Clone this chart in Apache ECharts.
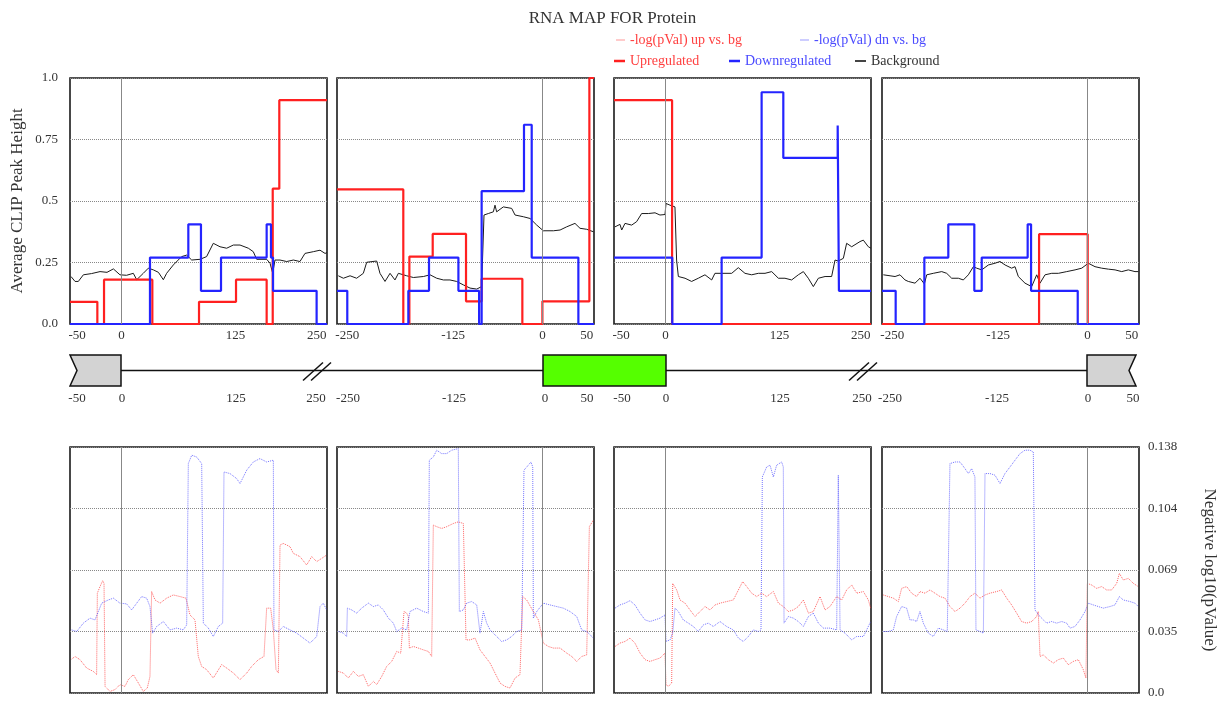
<!DOCTYPE html>
<html>
<head>
<meta charset="utf-8">
<title>RNA MAP FOR Protein</title>
<script src="https://cdn.jsdelivr.net/npm/echarts@6/dist/echarts.min.js"></script>
<style>
  html, body { margin: 0; padding: 0; background: #fff; }
  #chart { width: 1225px; height: 702px; }
</style>
</head>
<body>
<div id="chart"></div>
<script>
// ---------- data ----------
// x ranges of the four regions around the cassette exon
const regionRanges = [[-50, 200], [-200, 50], [-50, 200], [-200, 50]]
const regionTickPos = [[-43, 0, 111, 190], [-190, -87, 0, 43], [-43, 0, 111, 190], [-190, -87, 0, 43]]
const regionTickText = [['-50', '0', '125', '250'], ['-250', '-125', '0', '50'], ['-50', '0', '125', '250'], ['-250', '-125', '0', '50']]

const peakYLabels = ['0.0', '0.25', '0.5', '0.75', '1.0']
const pvalYLabels = ['0.0', '0.035', '0.069', '0.104', '0.138']

// Upregulated (red step)
const up1 = [[-50, 0.09], [-23.4, 0], [-16.9, 0.18], [30.1, 0], [75.5, 0.09], [111.5, 0.18], [141.3, 0], [147.2, 0.55], [153.6, 0.91], [200, 0.91]]
const up2 = [[-200, 0.547], [-135.5, 0], [-129.6, 0.274], [-106.9, 0.366], [-74.5, 0.092], [-59.3, 0.184], [-19.7, 0], [-0.2, 0.092], [45.5, 1.0], [50, 1.0]]
const up3 = [[-50, 0.91], [6.5, 0], [200, 0]]
const up4 = [[-200, 0], [-47.2, 0.365], [0.1, 0], [50, 0]]

// Downregulated (blue step)
const dn1 = [[-50, 0], [27.8, 0.27], [65.1, 0.405], [77.4, 0.135], [96.9, 0.27], [141.3, 0.405], [145.5, 0.27], [147.5, 0.135], [189.9, 0], [200, 0]]
const dn2 = [[-200, 0.135], [-190, 0], [-130.6, 0.135], [-110.5, 0.27], [-81.9, 0.135], [-61.8, 0], [-59.3, 0.54], [-18.1, 0.81], [-10.6, 0.27], [34.8, 0], [50, 0]]
const dn3 = [[-50, 0.27], [6.7, 0], [54.7, 0.27], [93.6, 0.942], [114.7, 0.675], [167.6, 0.807], [168.8, 0.135], [200, 0.135]]
const dn4 = [[-200, 0.135], [-186.7, 0], [-158.8, 0.27], [-135.5, 0.405], [-110.2, 0.135], [-103, 0.27], [-58.3, 0.405], [-55, 0.135], [-9.6, 0], [50, 0]]

// Background (black)
const bg1 = [[-49, 0.193], [-45.1, 0.173], [-41.9, 0.173], [-37, 0.2], [-29, 0.205], [-20.8, 0.213], [-14, 0.21], [-7.8, 0.224], [-1.4, 0.2], [5, 0.198], [11.6, 0.206], [14.9, 0.18], [21.3, 0.206], [26.2, 0.227], [31.1, 0.22], [36, 0.21], [40.8, 0.18], [44, 0.206], [50.5, 0.24], [58.6, 0.274], [63.5, 0.28], [68.4, 0.26], [76.5, 0.263], [82.9, 0.274], [89.4, 0.328], [95.9, 0.314], [102.4, 0.308], [108.9, 0.321], [115.4, 0.321], [123.5, 0.308], [128.3, 0.294], [131.6, 0.263], [141.3, 0.263], [144.6, 0.247], [147.2, 0.206], [149.4, 0.26], [154.3, 0.26], [160.8, 0.254], [167.3, 0.26], [173.7, 0.254], [178.6, 0.287], [186.7, 0.294], [193.2, 0.3], [198.1, 0.287], [200, 0.29]]
const bg2 = [[-198.7, 0.196], [-193.8, 0.186], [-187.3, 0.196], [-180.9, 0.186], [-174.4, 0.206], [-171.1, 0.251], [-161.4, 0.256], [-158.2, 0.206], [-153.3, 0.173], [-148.4, 0.206], [-143.6, 0.179], [-140.3, 0.206], [-132.2, 0.196], [-125.7, 0.189], [-116, 0.193], [-109.5, 0.2], [-103, 0.186], [-96.5, 0.179], [-90.1, 0.179], [-83.6, 0.173], [-77.1, 0.159], [-70.6, 0.146], [-64.1, 0.142], [-59.3, 0.152], [-57, 0.443], [-52.8, 0.449], [-47.9, 0.456], [-46.3, 0.483], [-44.7, 0.456], [-38.2, 0.476], [-30.1, 0.47], [-26.8, 0.443], [-18.7, 0.436], [-12.2, 0.429], [-5.7, 0.402], [0.7, 0.379], [10.5, 0.379], [17, 0.382], [23.4, 0.395], [31.5, 0.409], [36.4, 0.389], [42.9, 0.385], [49.4, 0.375]]
const bg3 = [[-49, 0.395], [-44.2, 0.405], [-42.5, 0.382], [-39.3, 0.409], [-32.8, 0.402], [-28, 0.416], [-23.1, 0.449], [-16.6, 0.449], [-10.1, 0.452], [-5.3, 0.443], [-0.4, 0.445], [0.6, 0.49], [4.5, 0.483], [9.3, 0.476], [10.9, 0.26], [12.6, 0.193], [19.1, 0.186], [25.5, 0.173], [32, 0.186], [38.5, 0.2], [45, 0.179], [48.2, 0.206], [54.7, 0.206], [64.5, 0.206], [70.9, 0.229], [77.4, 0.206], [83.9, 0.2], [90.4, 0.206], [96.9, 0.206], [103.4, 0.213], [109.9, 0.186], [116.3, 0.186], [122.8, 0.179], [129.3, 0.2], [134.2, 0.213], [139, 0.186], [143.9, 0.152], [148.8, 0.186], [155.3, 0.193], [161.7, 0.193], [165, 0.26], [168.2, 0.256], [173.1, 0.267], [176.3, 0.328], [181.2, 0.314], [189.3, 0.335], [192.5, 0.341], [197.4, 0.314], [200, 0.308]]
const bg4 = [[-198.7, 0.2], [-192.2, 0.196], [-187.3, 0.193], [-182.5, 0.2], [-177.6, 0.179], [-174.4, 0.173], [-167.9, 0.166], [-163, 0.186], [-158.8, 0.163], [-156.5, 0.2], [-150.1, 0.206], [-141.9, 0.213], [-137.1, 0.206], [-132.2, 0.186], [-125.7, 0.186], [-120.9, 0.179], [-116, 0.2], [-111.1, 0.233], [-107.9, 0.227], [-103, 0.22], [-96.5, 0.24], [-90.1, 0.247], [-85.2, 0.254], [-80.3, 0.24], [-73.9, 0.227], [-70.6, 0.233], [-67.4, 0.193], [-60.9, 0.166], [-54.4, 0.152], [-49.5, 0.2], [-46.3, 0.166], [-41.4, 0.2], [-34.9, 0.206], [-28.4, 0.206], [-20.3, 0.213], [-12.2, 0.22], [-5.7, 0.227], [0.7, 0.247], [7.2, 0.233], [13.7, 0.227], [20.2, 0.223], [26.7, 0.22], [33.2, 0.213], [39.6, 0.22], [46.1, 0.213], [49.4, 0.213]]

// -log(pVal) up vs. bg (red dotted)
const pUp1 = [[-48.4, 0.019], [-45.1, 0.0205], [-40.3, 0.0187], [-33.8, 0.014], [-27.3, 0.0121], [-24.1, 0.0103], [-23.4, 0.056], [-20.8, 0.0597], [-18.2, 0.063], [-16.9, 0.0615], [-15.9, 0.0037], [-11.1, 0.0009], [-6.2, 0.0019], [-1.4, 0.0047], [3.5, 0.0037], [6.7, 0.0075], [11.6, 0.0103], [16.5, 0.0056], [21.3, 0.0009], [25.2, 0.0028], [27.8, 0.0093], [29.4, 0.0569], [32.7, 0.0522], [37.6, 0.0504], [44, 0.0532], [50.5, 0.055], [57, 0.0541], [62.8, 0.0532], [66.7, 0.0438], [71.6, 0.041], [74.8, 0.0205], [78.1, 0.0149], [82.9, 0.0131], [89.4, 0.0084], [97.5, 0.0159], [102.4, 0.014], [108.9, 0.0112], [115.4, 0.0075], [121.9, 0.0112], [126.7, 0.0149], [133.2, 0.0187], [138.7, 0.0205], [141.3, 0.0476], [145.2, 0.0476], [147.8, 0.0354], [150.4, 0.0131], [152.7, 0.0112], [154.3, 0.083], [157.5, 0.0839], [164, 0.0821], [167.3, 0.0783], [173.7, 0.0765], [180.2, 0.0718], [185.1, 0.0765], [190, 0.0737], [194.8, 0.0755], [199.7, 0.0774]]
const pUp2 = [[-198.7, 0.0121], [-193.8, 0.0112], [-189, 0.0084], [-184.1, 0.0121], [-179.2, 0.0093], [-174.4, 0.0103], [-169.5, 0.0037], [-164.6, 0.0065], [-161.4, 0.0047], [-156.5, 0.0093], [-151.7, 0.0149], [-146.8, 0.0177], [-141.9, 0.0233], [-138, 0.0224], [-134.8, 0.0457], [-132.2, 0.0448], [-130.6, 0.0429], [-129.6, 0.0252], [-125.7, 0.0261], [-120.9, 0.0252], [-116, 0.0242], [-111.1, 0.0233], [-107.9, 0.0205], [-106.3, 0.0942], [-103, 0.0933], [-98.2, 0.0923], [-93.3, 0.0933], [-86.8, 0.0951], [-82, 0.096], [-77.1, 0.0951], [-75.5, 0.0942], [-74.5, 0.0298], [-70.6, 0.0298], [-65.7, 0.0308], [-60.9, 0.0242], [-56, 0.0205], [-51.1, 0.0168], [-46.3, 0.0112], [-41.4, 0.0056], [-36.6, 0.0037], [-31.7, 0.0028], [-26.8, 0.0084], [-22, 0.0103], [-19.4, 0.0541], [-15.5, 0.0522], [-9, 0.0457], [-4.1, 0.041], [0.7, 0.028], [5.6, 0.0261], [10.5, 0.0252], [17, 0.0252], [23.4, 0.0224], [28.3, 0.0205], [33.2, 0.0177], [38, 0.0205], [42.9, 0.0214], [45.5, 0.0933], [49.4, 0.097]]
const pUp3 = [[-49, 0.0261], [-44.2, 0.028], [-39.3, 0.0289], [-34.4, 0.0308], [-29.6, 0.028], [-24.7, 0.0224], [-19.8, 0.0187], [-15, 0.0177], [-10.1, 0.0187], [-5.2, 0.0196], [-0.4, 0.0224], [0.6, 0.0047], [2.9, 0.0037], [6.1, 0.0056], [7.1, 0.0615], [11, 0.0578], [14.2, 0.0522], [19.1, 0.0504], [23.9, 0.0466], [28.8, 0.0429], [33.7, 0.0457], [38.5, 0.0485], [43.4, 0.0466], [48.3, 0.0494], [53.1, 0.0504], [59.6, 0.0513], [66.1, 0.0522], [71, 0.0578], [75.2, 0.0625], [79.1, 0.0597], [83.9, 0.056], [88.8, 0.0541], [93.6, 0.056], [98.5, 0.0541], [105, 0.0569], [109.9, 0.0504], [114.7, 0.0485], [119.6, 0.0457], [124.5, 0.0466], [129.3, 0.0485], [134.2, 0.0522], [139.1, 0.0448], [143.9, 0.0457], [150.4, 0.0541], [155.3, 0.0466], [160.1, 0.0485], [166.6, 0.0541], [171.5, 0.0522], [176.3, 0.0578], [181.2, 0.0606], [186.1, 0.056], [192.6, 0.0569], [197.4, 0.0522], [199.7, 0.0476]]
const pUp4 = [[-198.7, 0.055], [-193.9, 0.0541], [-189, 0.0532], [-184.1, 0.0513], [-180.9, 0.0587], [-176, 0.0597], [-171.2, 0.056], [-166.3, 0.0541], [-163.1, 0.0569], [-158.2, 0.056], [-153.3, 0.0578], [-148.5, 0.056], [-143.6, 0.0541], [-138.7, 0.0532], [-133.9, 0.0485], [-129, 0.0457], [-124.1, 0.0476], [-119.3, 0.0504], [-114.4, 0.0541], [-109.6, 0.056], [-104.7, 0.0532], [-99.8, 0.055], [-95, 0.056], [-88.5, 0.0569], [-83.6, 0.0578], [-78.7, 0.0532], [-73.9, 0.0494], [-69, 0.0448], [-64.2, 0.0401], [-59.3, 0.0392], [-54.4, 0.0401], [-49.6, 0.0429], [-48, 0.0457], [-46.3, 0.0205], [-43.1, 0.0214], [-38.2, 0.0187], [-33.3, 0.0168], [-28.5, 0.0187], [-23.6, 0.0196], [-18.8, 0.0159], [-13.9, 0.0177], [-9, 0.0187], [-4.2, 0.0131], [-1.6, 0.0084], [-0.3, 0.0615], [3.9, 0.0606], [8.8, 0.0587], [13.7, 0.0597], [18.5, 0.0578], [23.4, 0.0578], [28.3, 0.0615], [30.9, 0.0671], [34.7, 0.0634], [39.6, 0.0643], [44.5, 0.0615], [49.3, 0.0597]]

// -log(pVal) dn vs. bg (blue dotted)
const pDn1 = [[-48.4, 0.0354], [-43.5, 0.0345], [-37, 0.0392], [-30.5, 0.042], [-25.7, 0.041], [-22.4, 0.0457], [-19.2, 0.0504], [-12.7, 0.0522], [-7.8, 0.0532], [-1.4, 0.0504], [5.1, 0.05], [10, 0.0466], [14.9, 0.0504], [19.7, 0.0541], [24.6, 0.0532], [27.8, 0.0485], [30.4, 0.0336], [34.3, 0.0373], [40.8, 0.0401], [47.3, 0.0354], [53.8, 0.0364], [60.2, 0.0354], [63.5, 0.0382], [65.1, 0.1287], [68.4, 0.1334], [73.2, 0.1324], [78.1, 0.1287], [79.7, 0.0392], [84.6, 0.0364], [89.4, 0.0317], [94.3, 0.0373], [98.5, 0.0392], [99.8, 0.124], [105.6, 0.1231], [112.1, 0.1203], [115.4, 0.1175], [121.9, 0.125], [128.3, 0.1296], [134.8, 0.1315], [141.3, 0.1296], [147.8, 0.1306], [148.4, 0.0354], [152.7, 0.0345], [157.5, 0.0373], [164, 0.0354], [170.5, 0.0336], [177, 0.0308], [183.5, 0.028], [190, 0.0317], [193.2, 0.0485], [196.4, 0.0504], [199.7, 0.0466]]
const pDn2 = [[-198.7, 0.0345], [-193.8, 0.0336], [-190.6, 0.0317], [-189.9, 0.0476], [-185.7, 0.0466], [-180.9, 0.0448], [-176, 0.0476], [-169.5, 0.0504], [-164.6, 0.0485], [-159.8, 0.0494], [-154.9, 0.0466], [-150, 0.042], [-145.2, 0.0392], [-141.9, 0.0345], [-137.1, 0.0364], [-132.2, 0.0354], [-129, 0.0457], [-122.5, 0.0476], [-116, 0.0457], [-111.1, 0.0448], [-110.2, 0.1306], [-106.3, 0.1324], [-103, 0.1362], [-98.2, 0.1343], [-93.3, 0.1343], [-88.5, 0.1362], [-82, 0.1371], [-81, 0.0457], [-77.1, 0.0466], [-73.9, 0.0504], [-69, 0.0513], [-64.1, 0.0494], [-60.9, 0.0336], [-57.6, 0.0457], [-54.4, 0.0392], [-51.1, 0.0354], [-44.7, 0.0317], [-39.8, 0.0289], [-34.9, 0.0298], [-30.1, 0.0317], [-25.2, 0.0345], [-20.3, 0.0354], [-18.1, 0.125], [-13.9, 0.1278], [-11.3, 0.1296], [-9.6, 0.1268], [-9, 0.042], [-5.7, 0.0457], [0.7, 0.0504], [7.2, 0.0494], [13.7, 0.0485], [20.2, 0.0476], [26.7, 0.0457], [33.2, 0.0429], [38, 0.0354], [42.9, 0.0345], [49.4, 0.0308]]
const pDn3 = [[-49, 0.0476], [-44.2, 0.0494], [-39.3, 0.0504], [-34.4, 0.0518], [-29.6, 0.0494], [-24.7, 0.0448], [-19.8, 0.041], [-15, 0.0401], [-10.1, 0.041], [-5.2, 0.042], [-0.4, 0.0438], [0.6, 0.0289], [4.5, 0.0298], [7.1, 0.0336], [9.3, 0.0476], [12.6, 0.0457], [17.4, 0.041], [22.3, 0.0392], [27.2, 0.0373], [32, 0.0345], [36.9, 0.0382], [41.8, 0.0392], [46.6, 0.0373], [53.1, 0.0401], [59.6, 0.0373], [66.1, 0.0354], [71, 0.0308], [75.8, 0.0289], [80.7, 0.0317], [85.5, 0.0354], [90.4, 0.0345], [93, 0.0354], [94.3, 0.1212], [98.5, 0.1268], [101.8, 0.1278], [105, 0.1212], [108.2, 0.1278], [113.1, 0.1296], [114.7, 0.1268], [115.4, 0.0392], [119.6, 0.0429], [124.5, 0.042], [129.3, 0.0401], [134.2, 0.0373], [139.1, 0.0429], [143.9, 0.0448], [148.8, 0.0392], [153.6, 0.0364], [160.1, 0.0364], [166.6, 0.0354], [168.2, 0.1222], [169.2, 0.1222], [169.9, 0.0354], [174.7, 0.0336], [181.2, 0.0298], [186.1, 0.0317], [192.6, 0.0317], [195.8, 0.0354], [199.7, 0.0401]]
const pDn4 = [[-198.7, 0.0345], [-193.9, 0.0345], [-189, 0.0354], [-185.8, 0.0429], [-180.9, 0.0485], [-176, 0.0476], [-172.8, 0.041], [-169.5, 0.041], [-166.3, 0.0401], [-163.1, 0.0457], [-159.8, 0.0392], [-155, 0.0336], [-150.1, 0.0317], [-145.2, 0.0364], [-140.4, 0.0354], [-136.5, 0.0345], [-133.9, 0.1287], [-129, 0.1296], [-124.1, 0.1296], [-119.3, 0.1259], [-116, 0.1231], [-112.8, 0.1259], [-109.6, 0.1212], [-108.6, 0.0354], [-104.7, 0.0345], [-101.4, 0.0336], [-99.8, 0.1231], [-95, 0.1231], [-90.1, 0.1222], [-85.2, 0.1175], [-80.4, 0.1231], [-75.5, 0.1268], [-70.6, 0.1306], [-65.8, 0.1343], [-60.9, 0.1362], [-56.1, 0.1362], [-52.8, 0.1352], [-51.2, 0.0466], [-46.3, 0.0429], [-39.8, 0.0392], [-35, 0.0401], [-30.1, 0.0392], [-25.2, 0.0401], [-20.4, 0.0392], [-17.1, 0.0364], [-12.3, 0.0373], [-7.4, 0.041], [-2.5, 0.0457], [0.7, 0.0504], [5.6, 0.0494], [10.4, 0.0485], [15.3, 0.0476], [21.8, 0.0485], [26.6, 0.0494], [30.9, 0.0541], [34.7, 0.0522], [41.2, 0.0513], [46.1, 0.0504], [49.3, 0.0485]]

// gene schematic (map position along the strip)
const exonStart = [70, 543, 1087]
const exonEnd = [121, 666, 1136]
const exonKind = ['upstream', 'cassette', 'downstream']
const intronLine = [121, 1087]
const intronBreaks = [317, 863]
const mapTickPos = [77, 122, 236, 316, 348, 454, 545, 587, 622, 666, 780, 862, 890, 997, 1088, 1133]
const mapTickText = ['-50', '0', '125', '250', '-250', '-125', '0', '50', '-50', '0', '125', '250', '-250', '-125', '0', '50']

// ---------- chart ----------
const FONT = '"Liberation Serif", "DejaVu Serif", serif'
const RED = '#ff2020'
const BLUE = '#2424ff'
const panelLeft = [70, 337, 614, 882]
const panelWidth = 257

const grid = []
const xAxis = []
const yAxis = []
const series = []

const upSets = [up1, up2, up3, up4]
const dnSets = [dn1, dn2, dn3, dn4]
const bgSets = [bg1, bg2, bg3, bg4]
const pUpSets = [pUp1, pUp2, pUp3, pUp4]
const pDnSets = [pDn1, pDn2, pDn3, pDn4]

const zeroLine = {
  silent: true,
  symbol: ['none', 'none'],
  label: { show: false },
  lineStyle: { color: '#888', width: 1, type: 'solid' },
  data: [{ xAxis: 0 }]
}
const dotted = { type: 'dotted', color: '#888', width: 1 }

for (let i = 0; i < 4; i++) {
  const [mn, mx] = regionRanges[i]
  // top panel
  grid.push({ left: panelLeft[i], width: panelWidth, top: 78, height: 246, show: true, borderColor: '#1a1a1a', borderWidth: 1.6 })
  xAxis.push({
    gridIndex: i, type: 'value', min: mn, max: mx,
    axisLine: { show: false }, axisTick: { show: false }, splitLine: { show: false },
    axisLabel: {
      customValues: regionTickPos[i], margin: 5, fontFamily: FONT, fontSize: 13, color: '#333',
      formatter: (v) => regionTickText[i][regionTickPos[i].indexOf(v)]
    }
  })
  yAxis.push({
    gridIndex: i, type: 'value', min: 0, max: 1, interval: 0.25,
    axisLine: { show: false }, axisTick: { show: false },
    splitLine: { show: true, lineStyle: dotted },
    axisLabel: {
      show: i === 0, margin: 12, fontFamily: FONT, fontSize: 13, color: '#333',
      formatter: (v) => peakYLabels[Math.round(v / 0.25)]
    },
    name: i === 0 ? 'Average CLIP Peak Height' : '',
    nameLocation: 'middle', nameGap: 44, nameRotate: 90,
    nameTextStyle: { fontFamily: FONT, fontSize: 17, color: '#333' }
  })
  series.push({
    name: 'Background', type: 'line', xAxisIndex: i, yAxisIndex: i, data: bgSets[i],
    symbol: 'none', lineStyle: { color: '#1a1a1a', width: 1 }, itemStyle: { color: '#444' },
    markLine: zeroLine, z: 2
  })
  series.push({
    name: 'Upregulated', type: 'line', step: 'end', xAxisIndex: i, yAxisIndex: i, data: upSets[i],
    symbol: 'none', lineStyle: { color: RED, width: 2.2 }, itemStyle: { color: RED }, z: 3
  })
  series.push({
    name: 'Downregulated', type: 'line', step: 'end', xAxisIndex: i, yAxisIndex: i, data: dnSets[i],
    symbol: 'none', lineStyle: { color: BLUE, width: 2.2 }, itemStyle: { color: BLUE }, z: 4
  })
}

for (let i = 0; i < 4; i++) {
  const g = 4 + i
  const [mn, mx] = regionRanges[i]
  grid.push({ left: panelLeft[i], width: panelWidth, top: 447, height: 246, show: true, borderColor: '#1a1a1a', borderWidth: 1.6 })
  xAxis.push({
    gridIndex: g, type: 'value', min: mn, max: mx,
    axisLine: { show: false }, axisTick: { show: false }, splitLine: { show: false }, axisLabel: { show: false }
  })
  yAxis.push({
    gridIndex: g, type: 'value', min: 0, max: 0.138, interval: 0.0345, position: 'right',
    axisLine: { show: false }, axisTick: { show: false },
    splitLine: { show: true, lineStyle: dotted },
    axisLabel: {
      show: i === 3, margin: 9, fontFamily: FONT, fontSize: 13, color: '#333',
      formatter: (v) => pvalYLabels[Math.round(v / 0.0345)]
    },
    name: i === 3 ? 'Negative log10(pValue)' : '',
    nameLocation: 'middle', nameGap: 62, nameRotate: -90,
    nameTextStyle: { fontFamily: FONT, fontSize: 17, color: '#333' }
  })
  series.push({
    name: '-log(pVal) up vs. bg', type: 'line', xAxisIndex: g, yAxisIndex: g, data: pUpSets[i],
    symbol: 'none', lineStyle: { color: '#ff3030', width: 1, type: 'dotted', opacity: 0.75 },
    itemStyle: { color: '#ff3030' }, markLine: zeroLine
  })
  series.push({
    name: '-log(pVal) dn vs. bg', type: 'line', xAxisIndex: g, yAxisIndex: g, data: pDnSets[i],
    symbol: 'none', lineStyle: { color: '#3a3aff', width: 1, type: 'dotted', opacity: 0.7 },
    itemStyle: { color: '#3a3aff' }
  })
}

// schematic strip
grid.push({ left: 0, width: 1225, top: 355, height: 31, show: false })
xAxis.push({
  gridIndex: 8, type: 'value', min: 0, max: 1225,
  axisLine: { show: false }, axisTick: { show: false }, splitLine: { show: false },
  axisLabel: {
    customValues: mapTickPos, margin: 6, fontFamily: FONT, fontSize: 13, color: '#333',
    formatter: (v) => mapTickText[mapTickPos.indexOf(v)]
  }
})
yAxis.push({ gridIndex: 8, type: 'value', min: 0, max: 1, show: false })

series.push({
  type: 'line', xAxisIndex: 8, yAxisIndex: 8, silent: true, symbol: 'none',
  data: intronLine.map((x) => [x, 0.5]), lineStyle: { color: '#111', width: 1.5 }, z: 1
})
series.push({
  type: 'custom', xAxisIndex: 8, yAxisIndex: 8, silent: true, z: 3, clip: false,
  encode: { x: [0, 1] },
  data: exonStart.map((s, i) => [s, exonEnd[i]]),
  renderItem: (params, api) => {
    const kind = exonKind[params.dataIndex]
    const tl = api.coord([api.value(0), 1])
    const br = api.coord([api.value(1), 0])
    const l = tl[0], t = tl[1], r = br[0], b = br[1], m = (t + b) / 2, n = 7
    let pts
    if (kind === 'upstream') pts = [[l, t], [r, t], [r, b], [l, b], [l + n, m]]
    else if (kind === 'downstream') pts = [[l, t], [r, t], [r - n, m], [r, b], [l, b]]
    else pts = [[l, t], [r, t], [r, b], [l, b]]
    return {
      type: 'polygon', shape: { points: pts },
      style: { fill: kind === 'cassette' ? '#55ff00' : '#d3d3d3', stroke: '#111', lineWidth: 1.5 }
    }
  }
})
series.push({
  type: 'custom', xAxisIndex: 8, yAxisIndex: 8, silent: true, z: 4, clip: false,
  encode: { x: 0 },
  data: intronBreaks.map((x) => [x]),
  renderItem: (params, api) => {
    const c = api.coord([api.value(0), 0.5])
    const seg = (dx) => ({
      type: 'line',
      shape: { x1: c[0] + dx - 10, y1: c[1] + 10, x2: c[0] + dx + 10, y2: c[1] - 8 },
      style: { stroke: '#111', lineWidth: 1.5 }
    })
    return { type: 'group', children: [seg(-4), seg(4)] }
  }
})

const legendBase = {
  selectedMode: false, itemWidth: 11, itemHeight: 2.5, itemGap: 10, icon: 'rect',
  textStyle: { fontFamily: FONT, fontSize: 14 }
}
const faintIcon = { ...legendBase, itemWidth: 9, itemHeight: 1, itemStyle: { opacity: 0.5 } }

const option = {
  animation: false,
  title: {
    text: 'RNA MAP FOR Protein', left: 'center', top: 5,
    textStyle: { fontFamily: FONT, fontSize: 17, fontWeight: 'normal', color: '#333' }
  },
  legend: [
    { ...faintIcon, data: ['-log(pVal) up vs. bg'], left: 611, top: 28, textStyle: { ...legendBase.textStyle, color: '#ff4040' } },
    { ...faintIcon, data: ['-log(pVal) dn vs. bg'], left: 795, top: 28, textStyle: { ...legendBase.textStyle, color: '#4a4aff' } },
    { ...legendBase, data: ['Upregulated'], left: 609, top: 49, textStyle: { ...legendBase.textStyle, color: '#ff4040' } },
    { ...legendBase, data: ['Downregulated'], left: 724, top: 49, textStyle: { ...legendBase.textStyle, color: '#4a4aff' } },
    { ...legendBase, data: ['Background'], left: 850, top: 49, itemHeight: 2, textStyle: { ...legendBase.textStyle, color: '#333' } }
  ],
  grid,
  xAxis,
  yAxis,
  series
}

const chart = echarts.init(document.getElementById('chart'))
chart.setOption(option)
</script>
</body>
</html>
